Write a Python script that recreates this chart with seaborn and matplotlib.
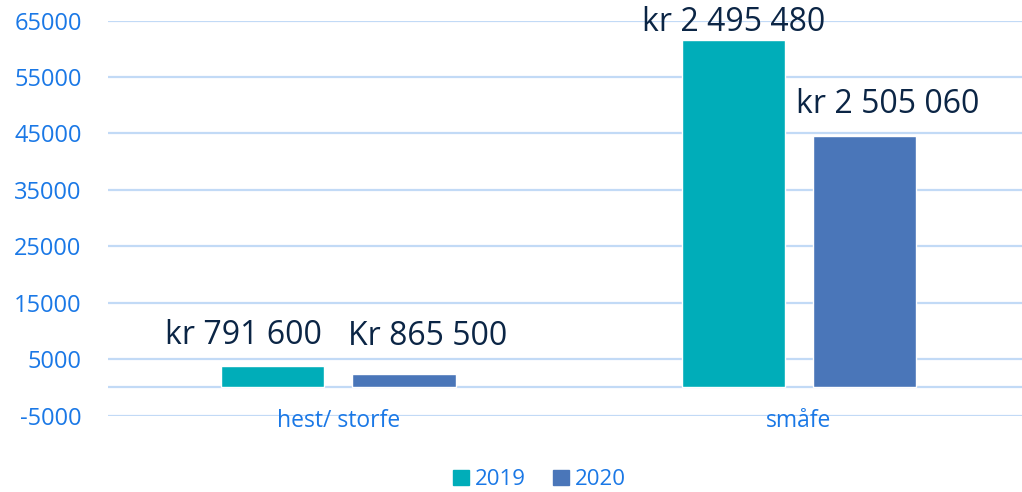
import matplotlib
matplotlib.use('Agg')

import pandas as pd
import matplotlib.pyplot as plt
import seaborn as sns

categories = ['hest/ storfe', 'småfe']
years = ['2019', '2020']
values_2019 = [3780, 61580]
values_2020 = [2410, 44560]
labels_2019 = ['kr 791 600', 'kr 2 495 480']
labels_2020 = ['Kr 865 500', 'kr 2 505 060']
yticks = [-5000, 5000, 15000, 25000, 35000, 45000, 55000, 65000]

TEAL = '#00adb9'
BLUE = '#4a76b9'
TICK = '#1a78e6'
GRID = '#c2daf6'
NAVY = '#0b2545'

df = pd.DataFrame({
    'kategori': categories * 2,
    'år': [years[0]] * len(categories) + [years[1]] * len(categories),
    'verdi': values_2019 + values_2020,
})

sns.set_style('white')
plt.rcParams['font.family'] = ['Open Sans', 'DejaVu Sans']

fig = plt.figure(figsize=(10.22, 4.92), dpi=100)
ax = fig.add_axes([0.1057, 0.1551, 0.9012, 0.803])

sns.barplot(data=df, x='kategori', y='verdi', hue='år', order=categories,
            hue_order=years, palette=[TEAL, BLUE], width=0.57, gap=0.213,
            saturation=1, ax=ax, legend=False)

ax.set_ylim(-5000, 65000)
ax.set_xlim(-0.5, 1.5)
ax.set_yticks(yticks)
ax.set_yticklabels([str(v) for v in yticks])
for y in yticks + [0]:
    ax.axhline(y, color=GRID, lw=1.6, zorder=0)
sns.despine(ax=ax, left=True, bottom=True, right=True, top=True)
ax.tick_params(axis='y', length=0, pad=19, labelsize=17, labelcolor=TICK)
ax.tick_params(axis='x', length=0, pad=-5, labelsize=16.5, labelcolor=TICK)
ax.set_xlabel('')
ax.set_ylabel('')

# data labels (slight horizontal nudges as in the original)
label_offsets = {
    (0, 0): (-21, 10), (0, 1): (17, 15),
    (1, 0): (0, 1), (1, 1): (17, 11),
}
all_labels = [labels_2019, labels_2020]
for h, cont in enumerate(ax.containers):
    for i, bar in enumerate(cont):
        dx, dy = label_offsets[(i, h)]
        ax.annotate(all_labels[h][i],
                    (bar.get_x() + bar.get_width() / 2, bar.get_height()),
                    xytext=(dx, dy), textcoords='offset points',
                    ha='center', va='bottom', fontsize=23, color=NAVY)

handles = [plt.Rectangle((0, 0), 1, 1, color=c) for c in [TEAL, BLUE]]
fig.legend(handles, years, loc='center', bbox_to_anchor=(0.528, 0.025),
           ncol=2, frameon=False, fontsize=16, labelcolor=TICK,
           handlelength=0.7, handleheight=0.7, handletextpad=0.3,
           columnspacing=1.2)

fig.savefig('out.png', dpi=100)
